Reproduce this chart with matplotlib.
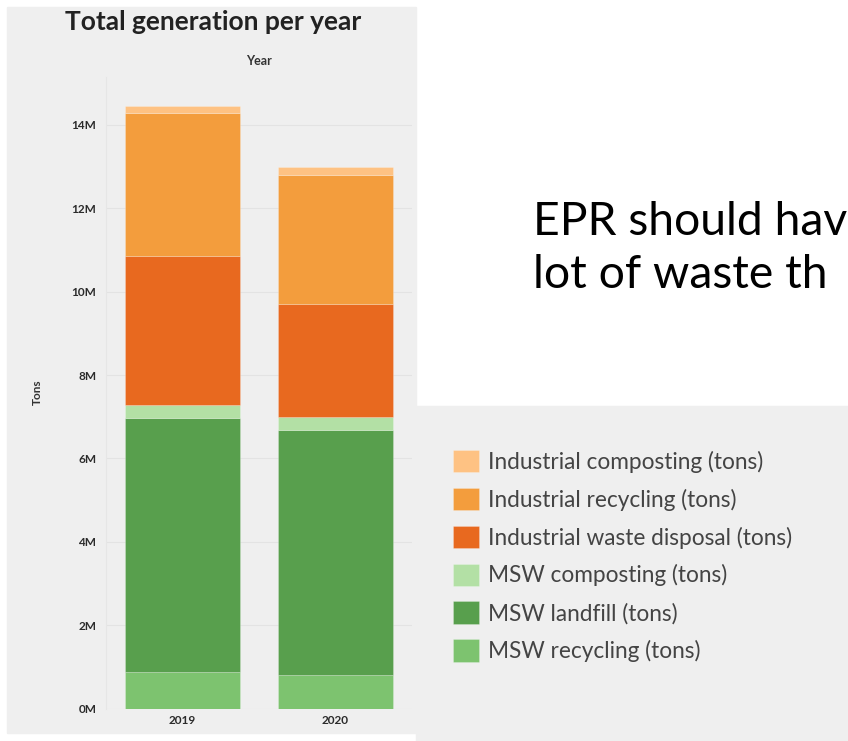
import matplotlib.pyplot as plt
import matplotlib.patches as mpatches
import numpy as np

years = ['2019', '2020']
series = ['MSW recycling (tons)', 'MSW landfill (tons)', 'MSW composting (tons)',
          'Industrial waste disposal (tons)', 'Industrial recycling (tons)',
          'Industrial composting (tons)']
msw_recycling = [0.875e6, 0.80e6]
msw_landfill = [6.09e6, 5.88e6]
msw_composting = [0.31e6, 0.31e6]
ind_disposal = [3.59e6, 2.72e6]
ind_recycling = [3.41e6, 3.10e6]
ind_composting = [0.19e6, 0.19e6]
values = [msw_recycling, msw_landfill, msw_composting,
          ind_disposal, ind_recycling, ind_composting]
colors = ['#7dc36f', '#589f4d', '#b3e0a5', '#e8691f', '#f39d3d', '#fec283']
yticks = [0, 2e6, 4e6, 6e6, 8e6, 10e6, 12e6, 14e6]
ytick_labels = ['0M', '2M', '4M', '6M', '8M', '10M', '12M', '14M']

W, H = 848, 741
bg = '#efefef'
plt.rcParams['font.family'] = ['Lato', 'DejaVu Sans']
fig = plt.figure(figsize=(W / 100, H / 100), dpi=100, facecolor='white')


def fx(x):
    return x / W


def fy(y):
    return 1 - y / H


# grey panels of the screenshot
fig.patches.append(mpatches.Rectangle((fx(7), fy(733)), fx(416 - 7), (733 - 7) / H,
                                      transform=fig.transFigure, color=bg, zorder=-2))
fig.patches.append(mpatches.Rectangle((fx(416), 0), fx(W - 416), (H - 406) / H,
                                      transform=fig.transFigure, color=bg, zorder=-2))

ax = fig.add_axes([fx(106), fy(708.5), fx(412 - 106), (708.5 - 77) / H])
ax.set_zorder(1)
ax.set_facecolor(bg)
x = np.arange(len(years))
bottom = np.zeros(len(years))
for name, vals, c in zip(series, values, colors):
    ax.bar(x, vals, width=0.75, bottom=bottom, color=c, label=name,
           edgecolor=(1, 1, 1, 0.25), linewidth=0.6, zorder=3)
    bottom += np.array(vals)

ax.set_xlim(-0.5, 1.5)
ax.set_ylim(0, 15.15e6)
ax.set_yticks(yticks)
ax.set_yticklabels(ytick_labels)
ax.set_xticks(x)
ax.set_xticklabels(years)
ax.tick_params(length=0, labelsize=8.5, colors='#2b2b2b')
ax.tick_params(axis='y', pad=7)
ax.tick_params(axis='x', pad=5)
for lab in ax.get_xticklabels() + ax.get_yticklabels():
    lab.set_fontweight('bold')
ax.grid(axis='y', color='#e3e3e3', linewidth=0.8, zorder=0)
for s in ['top', 'right', 'bottom']:
    ax.spines[s].set_visible(False)
ax.spines['left'].set_color('#e6e6e6')

fig.text(fx(213), fy(22), 'Total generation per year', fontsize=19, fontweight='bold',
         color='#222222', ha='center', va='center')
fig.text(fx(259), fy(61), 'Year', fontsize=9, fontweight='bold', color='#333333',
         ha='center', va='center')
fig.text(fx(37), fy(392), 'Tons', fontsize=8.5, fontweight='bold', color='#333333',
         rotation=90, ha='center', va='center')

fig.text(fx(533), fy(222), 'EPR should hav', fontsize=33.3, color='black',
         ha='left', va='center')
fig.text(fx(533), fy(275), 'lot of waste th', fontsize=33.3, color='black',
         ha='left', va='center')

handles, labels = ax.get_legend_handles_labels()
leg = fig.legend(handles[::-1], labels[::-1], loc='upper left',
                 bbox_to_anchor=(fx(453), fy(450)), frameon=False,
                 fontsize=16.3, labelcolor='#444444', handlelength=1.15,
                 handleheight=1.15, handletextpad=0.4, labelspacing=0.66,
                 borderaxespad=0, borderpad=0)

fig.savefig('out.png', dpi=100, facecolor='white')
